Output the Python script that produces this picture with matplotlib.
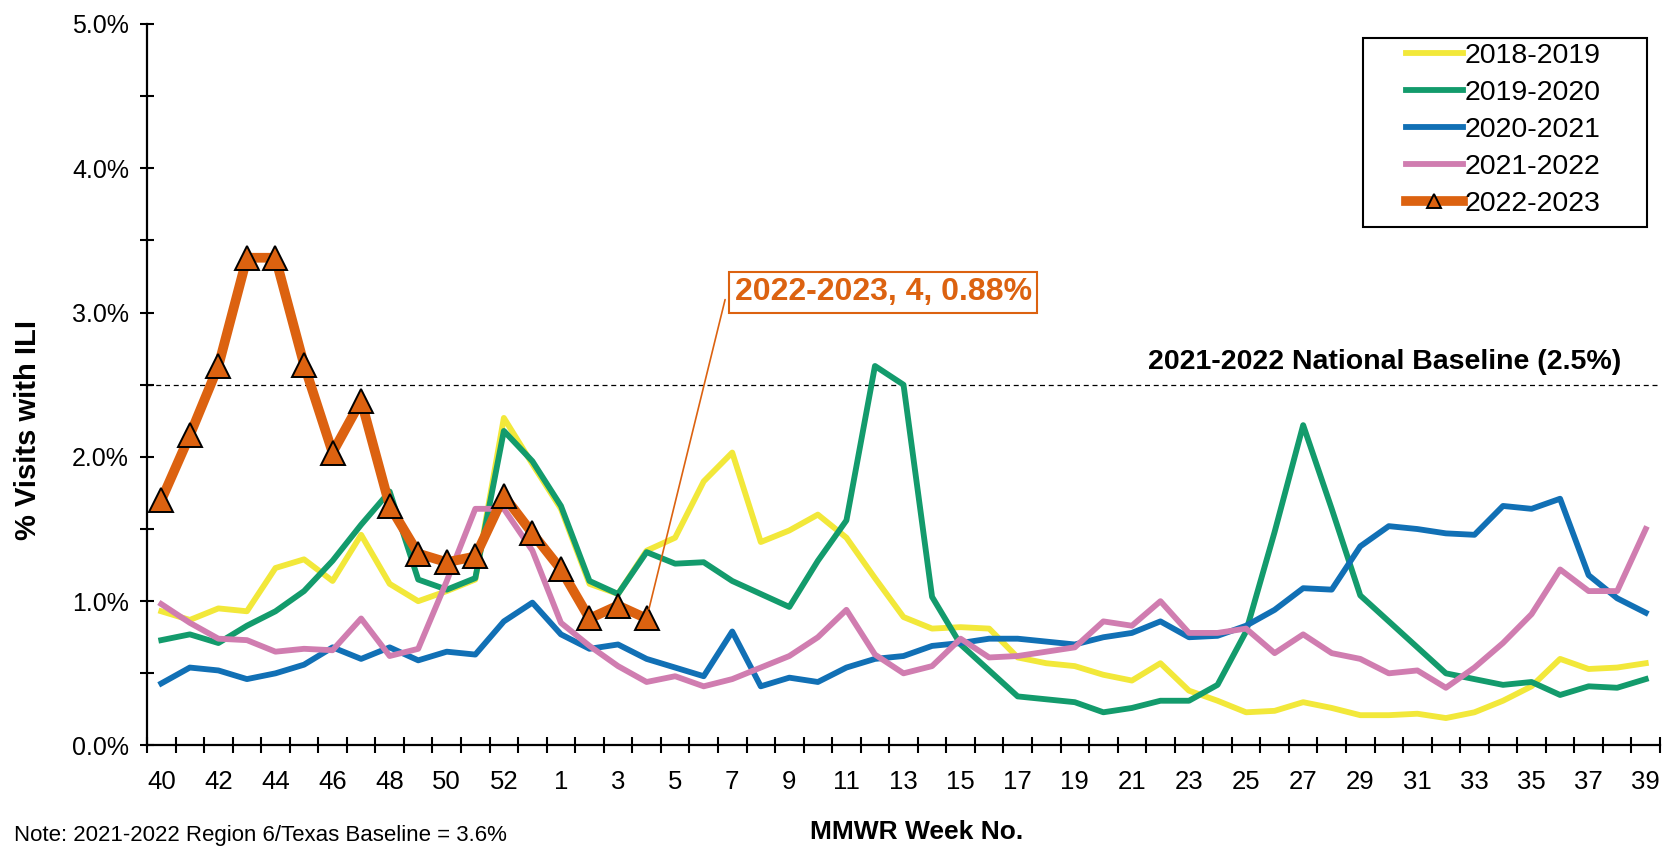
import matplotlib
matplotlib.use("Agg")
import matplotlib.pyplot as plt
from matplotlib.patches import Rectangle
from matplotlib.ticker import FixedLocator, FuncFormatter, MultipleLocator

plt.rcParams['font.family'] = ['Liberation Sans', 'DejaVu Sans']

# MMWR weeks of the season (week 53 sits between 52 and 1)
weeks = [str(w) for w in list(range(40, 54)) + list(range(1, 40))]

# % of visits with ILI
ili_2018_2019 = [0.93, 0.87, 0.95, 0.93, 1.23, 1.29, 1.14, 1.46, 1.12, 1.00, 1.07, 1.15, 2.27, 1.95,
                 1.64, 1.12, 1.05, 1.35, 1.44, 1.83, 2.03, 1.41, 1.49, 1.60, 1.44, 1.16, 0.89, 0.81,
                 0.82, 0.81, 0.61, 0.57, 0.55, 0.49, 0.45, 0.57, 0.38, 0.31, 0.23, 0.24, 0.30, 0.26,
                 0.21, 0.21, 0.22, 0.19, 0.23, 0.31, 0.41, 0.60, 0.53, 0.54, 0.57]
ili_2019_2020 = [0.73, 0.77, 0.71, 0.83, 0.93, 1.07, 1.28, 1.53, 1.76, 1.15, 1.08, 1.16, 2.18, 1.97,
                 1.66, 1.14, 1.05, 1.34, 1.26, 1.27, 1.14, 1.05, 0.96, 1.28, 1.56, 2.63, 2.50, 1.03,
                 0.70, 0.52, 0.34, 0.32, 0.30, 0.23, 0.26, 0.31, 0.31, 0.42, 0.79, 1.48, 2.22, 1.64,
                 1.04, 0.86, 0.68, 0.50, 0.46, 0.42, 0.44, 0.35, 0.41, 0.40, 0.46]
ili_2020_2021 = [0.43, 0.54, 0.52, 0.46, 0.50, 0.56, 0.68, 0.60, 0.68, 0.59, 0.65, 0.63, 0.86, 0.99,
                 0.77, 0.67, 0.70, 0.60, 0.54, 0.48, 0.79, 0.41, 0.47, 0.44, 0.54, 0.60, 0.62, 0.69,
                 0.71, 0.74, 0.74, 0.72, 0.70, 0.75, 0.78, 0.86, 0.75, 0.76, 0.83, 0.94, 1.09, 1.08,
                 1.38, 1.52, 1.50, 1.47, 1.46, 1.66, 1.64, 1.71, 1.18, 1.02, 0.92]
ili_2021_2022 = [0.98, 0.85, 0.74, 0.73, 0.65, 0.67, 0.66, 0.88, 0.62, 0.67, 1.14, 1.64, 1.64, 1.35,
                 0.85, 0.69, 0.55, 0.44, 0.48, 0.41, 0.46, 0.54, 0.62, 0.75, 0.94, 0.63, 0.50, 0.55,
                 0.74, 0.61, 0.62, 0.65, 0.68, 0.86, 0.83, 1.00, 0.78, 0.78, 0.81, 0.64, 0.77, 0.64,
                 0.60, 0.50, 0.52, 0.40, 0.54, 0.71, 0.91, 1.22, 1.07, 1.07, 1.50]
ili_2022_2023 = [1.70, 2.15, 2.63, 3.38, 3.38, 2.64, 2.03, 2.39, 1.66, 1.33, 1.27, 1.31, 1.73, 1.47,
                 1.22, 0.88, 0.97, 0.88]

national_baseline = 2.5

c_yellow = '#F2E83A'
c_green = '#139B6C'
c_blue = '#1170B5'
c_pink = '#D07DB0'
c_orange = '#DC6210'

fig = plt.figure(figsize=(16.65, 8.48), dpi=100)
ax = fig.add_axes([0.0883, 0.1209, 0.9087, 0.8508])

x = list(range(len(weeks)))
ax.plot(x, ili_2018_2019, color=c_yellow, lw=4.2, label='2018-2019', zorder=3)
ax.plot(x, ili_2019_2020, color=c_green, lw=4.2, label='2019-2020', zorder=4)
ax.plot(x, ili_2020_2021, color=c_blue, lw=4.2, label='2020-2021', zorder=5)
ax.plot(x, ili_2021_2022, color=c_pink, lw=4.2, label='2021-2022', zorder=6)
ax.plot(x[:len(ili_2022_2023)], ili_2022_2023, color=c_orange, lw=7, marker='^',
        markersize=17, markerfacecolor=c_orange, markeredgecolor='black', markeredgewidth=1.4,
        label='2022-2023', zorder=7)

# national baseline
ax.axhline(national_baseline, color='black', lw=0.9, ls=(0, (4, 3)), zorder=2)
ax.text(51.15, 2.66, '2021-2022 National Baseline (2.5%)', ha='right', va='center',
        fontsize=20.5, fontweight='bold')

# callout for the latest week: leader line and boxed label
last = len(ili_2022_2023) - 1
ax.annotate('', xy=(last, ili_2022_2023[last]), xytext=(19.75, 3.09),
            arrowprops=dict(arrowstyle='-', color=c_orange, lw=1.2, shrinkA=0, shrinkB=7),
            zorder=8)
ax.text(20.08, 3.14, '%s, %s, %.2f%%' % ('2022-2023', weeks[last], ili_2022_2023[last]),
        ha='left', va='center', fontsize=23, fontweight='bold', color=c_orange,
        bbox=dict(boxstyle='square,pad=0.17', fc='white', ec=c_orange, lw=1.5), zorder=8)

# axes styling
ax.set_xlim(-0.5, len(weeks) - 0.5)
ax.set_ylim(0, 5)
for s in ['top', 'right']:
    ax.spines[s].set_visible(False)
for s in ['left', 'bottom']:
    ax.spines[s].set_linewidth(1.6)

ax.xaxis.set_major_locator(FixedLocator(x[::2]))
ax.set_xticklabels(weeks[::2])
ax.xaxis.set_minor_locator(FixedLocator([i - 0.5 for i in range(len(weeks) + 1)]))
ax.tick_params(axis='x', which='major', length=0, pad=18, labelsize=18.5)
ax.tick_params(axis='x', which='minor', direction='inout', length=12, width=1.5)

ax.yaxis.set_major_locator(MultipleLocator(1))
ax.yaxis.set_minor_locator(MultipleLocator(0.5))
ax.yaxis.set_major_formatter(FuncFormatter(lambda v, p: '%.1f%%' % v))
ax.tick_params(axis='y', which='both', direction='inout', length=10, width=1.5)
ax.tick_params(axis='y', which='major', labelsize=18, pad=8)

# legend with a hand drawn frame (reference has wide side padding)
leg = ax.legend(loc='upper left', bbox_to_anchor=(0.832, 0.9737), frameon=False,
                fontsize=20.5, borderpad=0, borderaxespad=0, handlelength=2.0,
                handletextpad=0.07, labelspacing=0.39, markerscale=0.6, numpoints=1)
ax.add_patch(Rectangle((0.8037, 0.7186), 0.1877, 0.262, transform=ax.transAxes,
                       fill=False, ec='black', lw=1.5, zorder=9, clip_on=False))

fig.text(28 / 1665, 1 - 430 / 848, '% Visits with ILI', rotation=90, ha='center',
         va='center', fontsize=21, fontweight='bold')
fig.text(917 / 1665, 1 - 832 / 848, 'MMWR Week No.', ha='center', va='center',
         fontsize=19, fontweight='bold')
fig.text(14 / 1665, 1 - 835 / 848, 'Note: 2021-2022 Region 6/Texas Baseline = 3.6%',
         ha='left', va='center', fontsize=16)

fig.savefig('out.png', dpi=100)
